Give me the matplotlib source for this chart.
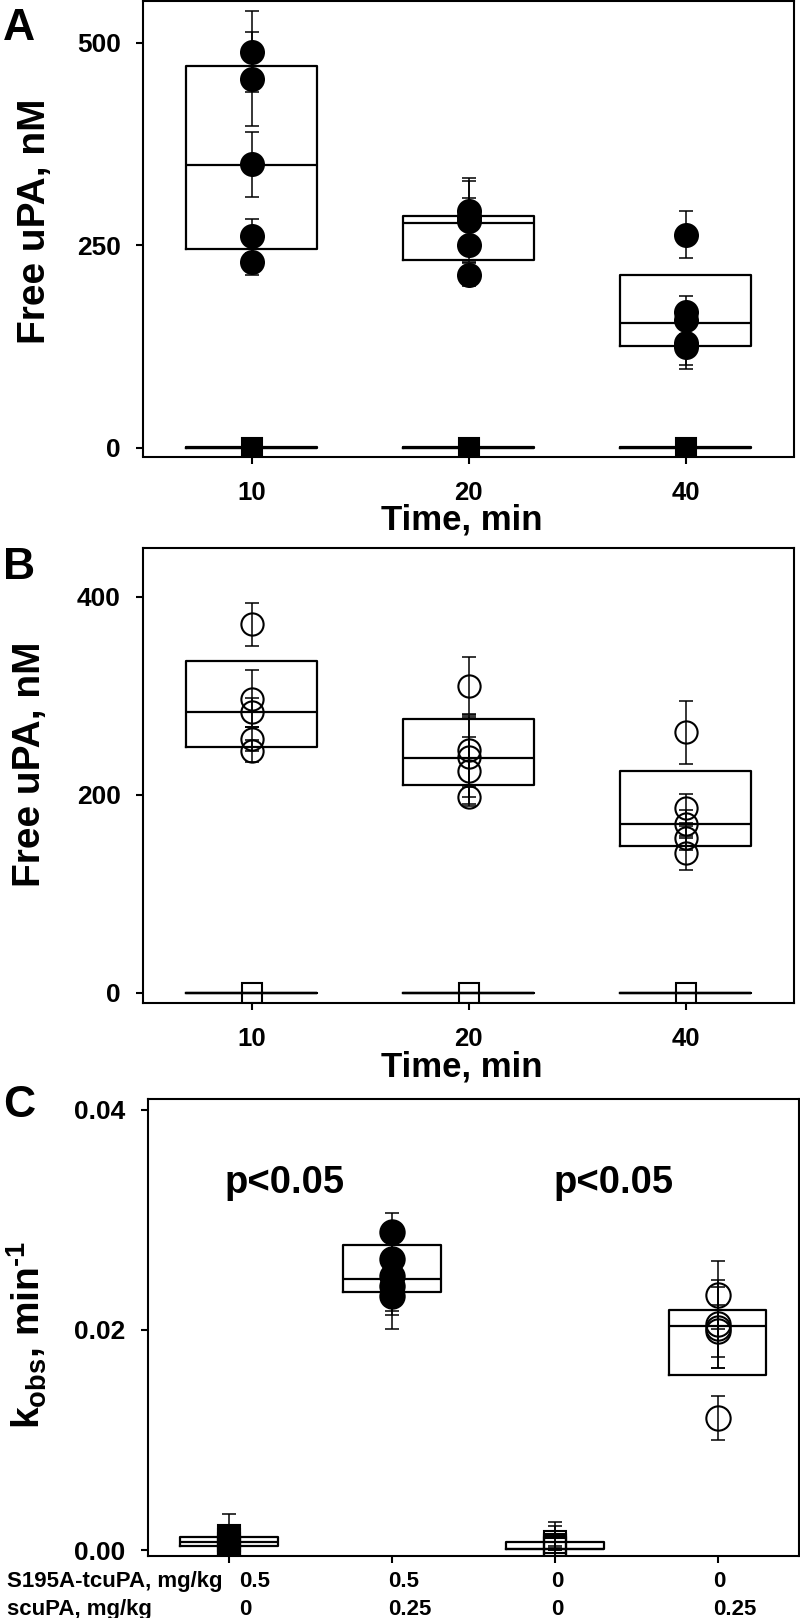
import matplotlib
matplotlib.use('Agg')
import matplotlib.pyplot as plt
import matplotlib.transforms as mtransforms

plt.rcParams['font.family'] = ['Liberation Sans', 'DejaVu Sans']
plt.rcParams['font.weight'] = 'bold'
plt.rcParams['mathtext.fontset'] = 'custom'
plt.rcParams['mathtext.rm'] = 'Liberation Sans:bold'
plt.rcParams['mathtext.bf'] = 'Liberation Sans:bold'
plt.rcParams['mathtext.it'] = 'Liberation Sans:bold'
plt.rcParams['mathtext.default'] = 'rm'

# ---- data ----
times = ['10', '20', '40']

# A: S195A-tcuPA (filled circles) and control (filled squares), free uPA nM
a_pts = [[489, 455, 350, 261, 229], [292, 285, 280, 250, 214], [263, 168, 158, 130, 124]]
a_err = [[50, 58, 40, 21, 16], [41, 44, 29, 20, 14], [29, 20, 18, 28, 26]]
a_box = [(245, 349, 472), (232, 278, 286), (126, 154, 214)]  # q1, median, q3
a_ctrl = [0, 0, 0]
a_ctrl_box = [(0, 0.5, 1.5), (0, 0.5, 1.5), (0, 0.5, 1.5)]

# B: scuPA (open circles) and control (open squares)
b_pts = [[372, 297, 283, 256, 244], [310, 245, 238, 224, 198], [263, 186, 170, 156, 141]]
b_err = [[22, 29, 15, 12, 11], [29, 35, 40, 34, 10], [32, 15, 14, 12, 17]]
b_box = [(248, 283, 335), (210, 237, 276), (148, 170, 224)]
b_ctrl = [0, 0, 0]
b_ctrl_box = [(0, 0, 0), (0, 0, 0), (0, 0, 0)]

# C: kobs per group
s195a_dose = ['0.5', '0.5', '0', '0']
scupa_dose = ['0', '0.25', '0', '0.25']
c_pts = [[0.0013, 0.0009, 0.0006, 0.0003, 0.0001],
         [0.0289, 0.0264, 0.0249, 0.0240, 0.0231],
         [0.0007, 0.0005, 0.0004, 0.0002, 0.0001],
         [0.0232, 0.0205, 0.0202, 0.0199, 0.0120]]
c_err = [[0.0020, 0.0004, 0.0003, 0.0002, 0.0001],
         [0.0017, 0.0020, 0.0032, 0.0026, 0.0030],
         [0.0019, 0.0017, 0.0003, 0.0002, 0.0001],
         [0.0031, 0.0040, 0.0037, 0.0024, 0.0020]]
c_box = [(0.00034, 0.00076, 0.00119), (0.02346, 0.02464, 0.02767),
         (0.0001, 0.00015, 0.0007), (0.01593, 0.02032, 0.02185)]
c_marker = ['s', 'o', 's', 'o']
c_filled = [True, True, False, False]
p_text = 'p<0.05'

TICK_FS = 19
XTICK_FS = 18.5
LAB_FS = 28
XLAB_FS = 25
ROW_FS = 16


def draw_box(ax, x, stats):
    q1, med, q3 = stats
    ax.bxp([dict(q1=q1, med=med, q3=q3, whislo=q1, whishi=q3, fliers=[])],
           positions=[x], widths=0.6, showcaps=False, showfliers=False,
           boxprops=dict(color='black', lw=1.6), medianprops=dict(color='black', lw=1.6),
           whiskerprops=dict(lw=0), manage_ticks=False, zorder=1)


def draw_points(ax, x, vals, errs, marker, filled, ms):
    xs = [x] * len(vals)
    if errs is not None:
        ax.errorbar(xs, vals, yerr=errs, fmt='none', ecolor='black', elinewidth=1.1,
                    capsize=4.7, capthick=1.1, zorder=2)
    ax.plot(xs, vals, ls='none', marker=marker, ms=ms,
            mfc='black' if filled else 'none', mec='black', mew=1.5, zorder=3)


def style_axes(ax):
    for s in ax.spines.values():
        s.set_linewidth(1.5)
    ax.tick_params(axis='both', direction='out', length=5, width=1.5)
    ax.tick_params(axis='y', pad=11, labelsize=TICK_FS)
    ax.tick_params(axis='x', pad=12.5, labelsize=XTICK_FS)
    for lab in ax.get_xticklabels() + ax.get_yticklabels():
        lab.set_fontweight('bold')


fig = plt.figure(figsize=(8, 16.18), dpi=100)
axA = fig.add_axes([143 / 800, 1 - 456.5 / 1618, 651 / 800, 455.8 / 1618])
axB = fig.add_axes([143 / 800, 1 - 1002.8 / 1618, 651 / 800, 455.3 / 1618])
axC = fig.add_axes([147.7 / 800, 1 - 1556 / 1618, 651.3 / 800, 457 / 1618])

# ---- A ----
for i in range(3):
    x = i + 1
    draw_box(axA, x, a_box[i])
    draw_box(axA, x, a_ctrl_box[i])
    draw_points(axA, x, a_pts[i], a_err[i], 'o', True, 16.5)
    draw_points(axA, x, [a_ctrl[i]], None, 's', True, 15)
axA.set_xlim(0.5, 3.5)
axA.set_ylim(-10.6, 552)
axA.set_yticks([0, 250, 500])
axA.set_xticks([1, 2, 3])
axA.set_xticklabels(times)
style_axes(axA)
axA.text(-0.166, 0.516, 'Free uPA, nM', transform=axA.transAxes, rotation=90,
         ha='center', va='center', fontsize=LAB_FS, fontweight='bold')
axA.text(0.49, -0.161, 'Time, min', transform=axA.transAxes, ha='center',
         va='baseline', fontsize=XLAB_FS, fontweight='bold')

# ---- B ----
for i in range(3):
    x = i + 1
    draw_box(axB, x, b_box[i])
    draw_box(axB, x, b_ctrl_box[i])
    draw_points(axB, x, b_pts[i], b_err[i], 'o', False, 16)
    draw_points(axB, x, [b_ctrl[i]], None, 's', False, 14.5)
axB.set_xlim(0.5, 3.5)
axB.set_ylim(-10.4, 449.7)
axB.set_yticks([0, 200, 400])
axB.set_xticks([1, 2, 3])
axB.set_xticklabels(times)
style_axes(axB)
axB.text(-0.1736, 0.525, 'Free uPA, nM', transform=axB.transAxes, rotation=90,
         ha='center', va='center', fontsize=LAB_FS, fontweight='bold')
axB.text(0.49, -0.161, 'Time, min', transform=axB.transAxes, ha='center',
         va='baseline', fontsize=XLAB_FS, fontweight='bold')

# ---- C ----
for i in range(4):
    x = i + 1
    draw_box(axC, x, c_box[i])
    ms = 15.5 if c_marker[i] == 's' else 17.5
    draw_points(axC, x, c_pts[i], c_err[i], c_marker[i], c_filled[i], ms)
axC.set_xlim(0.5, 4.5)
axC.set_ylim(-0.00053, 0.04097)
axC.set_yticks([0.0, 0.02, 0.04])
axC.set_yticklabels(['0.00', '0.02', '0.04'])
axC.set_xticks([1, 2, 3, 4])
axC.set_xticklabels([])
style_axes(axC)
axC.text(-0.186, 0.484, 'k$_{obs}$, min$^{\u2010' + '1}$', transform=axC.transAxes,
         rotation=90, ha='center', va='center', fontsize=LAB_FS, fontweight='bold')
axC.text(1.343, 0.0324, p_text, ha='center', va='baseline', fontsize=27.5, fontweight='bold')
axC.text(3.36, 0.0324, p_text, ha='center', va='baseline', fontsize=27.5, fontweight='bold')

# dose rows below panel C
row_tr = mtransforms.blended_transform_factory(axC.transData, fig.transFigure)
nudge = [0.06, -0.025, -0.025, -0.025]
for i in range(4):
    axC.text(i + 1 + nudge[i], 1 - 1587 / 1618, s195a_dose[i], transform=row_tr,
             ha='left', va='baseline', fontsize=ROW_FS, fontweight='bold')
    axC.text(i + 1 + nudge[i], 1 - 1615 / 1618, scupa_dose[i], transform=row_tr,
             ha='left', va='baseline', fontsize=ROW_FS, fontweight='bold')
fig.text(7 / 800, 1 - 1587 / 1618, 'S195A-tcuPA, mg/kg', ha='left', va='baseline',
         fontsize=ROW_FS, fontweight='bold')
fig.text(7 / 800, 1 - 1615 / 1618, 'scuPA, mg/kg', ha='left', va='baseline',
         fontsize=ROW_FS, fontweight='bold')

# panel letters
fig.text(3 / 800, 1 - 40 / 1618, 'A', ha='left', va='baseline', fontsize=32, fontweight='bold')
fig.text(3 / 800, 1 - 579 / 1618, 'B', ha='left', va='baseline', fontsize=32, fontweight='bold')
fig.text(3 / 800, 1 - 1117 / 1618, 'C', ha='left', va='baseline', fontsize=32, fontweight='bold')

fig.savefig('out.png', dpi=100)
